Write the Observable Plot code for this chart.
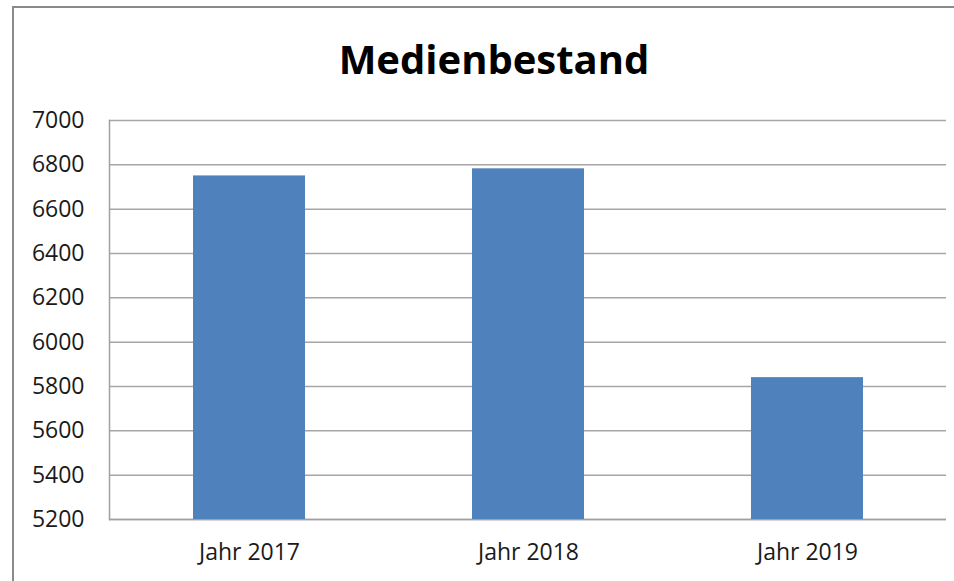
<!DOCTYPE html>
<html>
<head>
<meta charset="utf-8">
<script src="https://cdn.jsdelivr.net/npm/d3@7"></script>
<script src="https://cdn.jsdelivr.net/npm/@observablehq/plot@0.6"></script>
<style>
  html, body { margin: 0; padding: 0; background: #fff; width: 954px; height: 581px; overflow: hidden; }
  #chart { position: absolute; left: 0; top: 0; }
  #frame { position: absolute; left: 12px; top: 6px; right: -10px; bottom: -10px;
           border-top: 2.5px solid #8a8a8a; border-left: 2.5px solid #8a8a8a; pointer-events: none; }
  #title { position: absolute; left: 0; width: 988px; top: 34px; text-align: center;
           font-family: "Open Sans", sans-serif; font-weight: bold; font-size: 40px; color: #000; line-height: 50px; }
</style>
</head>
<body>
<div id="chart"></div>
<div id="frame"></div>
<div id="title">Medienbestand</div>
<script>
const categories = ["Jahr 2017", "Jahr 2018", "Jahr 2019"];
const values = [6750, 6782, 5840];
const yTicks = [5200, 5400, 5600, 5800, 6000, 6200, 6400, 6600, 6800, 7000];

const data = categories.map((c, i) => ({category: c, value: values[i]}));

const chart = Plot.plot({
  width: 954,
  height: 581,
  marginLeft: 109,
  marginRight: 8,
  marginTop: 120,
  marginBottom: 62,
  style: {fontFamily: "'Open Sans', sans-serif", fontSize: "23px", color: "#1a1a1a", background: "transparent"},
  x: {domain: categories, paddingInner: 0.6, paddingOuter: 0.3, label: null},
  y: {domain: [5200, 7000], label: null},
  marks: [
    Plot.gridY(yTicks, {stroke: "#a6a6a6", strokeOpacity: 1, strokeWidth: 1.5}),
    Plot.ruleY([5200], {stroke: "#a0a0a0", strokeWidth: 1.5}),
    Plot.barY(data, {x: "category", y1: 5200, y2: "value", fill: "#4f81bd"}),
    Plot.axisY(yTicks, {tickSize: 0, tickPadding: 25, fontSize: 23, tickFormat: d3.format("d"), label: null}),
    Plot.axisX({tickSize: 0, tickPadding: 24, fontSize: 23, label: null}),
    Plot.frame({anchor: "left", stroke: "#a0a0a0", strokeWidth: 1.5})
  ]
});
document.getElementById("chart").appendChild(chart);
</script>
</body>
</html>
